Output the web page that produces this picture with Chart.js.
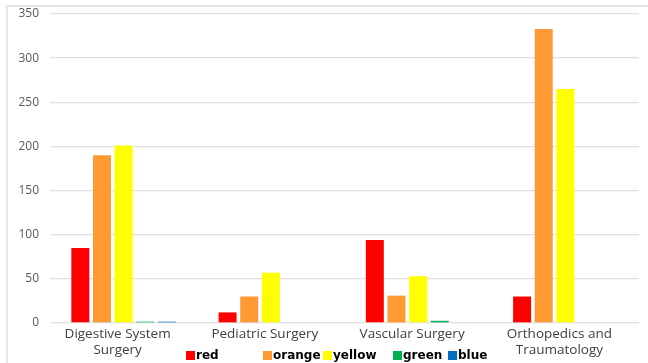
<!DOCTYPE html>
<html>
<head>
<meta charset="utf-8">
<script src="https://cdn.jsdelivr.net/npm/chart.js@4/dist/chart.umd.min.js"></script>
<style>
  html, body { margin: 0; padding: 0; background: #ffffff; }
  #wrap { position: relative; width: 648px; height: 363px; }
  canvas { display: block; }
</style>
</head>
<body>
<div id="wrap"><canvas id="chart" width="648" height="363"></canvas></div>
<script>
// Departments (two-line labels where the text wraps)
const categories = [
  ['Digestive System', 'Surgery'],
  'Pediatric Surgery',
  'Vascular Surgery',
  ['Orthopedics and', 'Traumatology']
];

// Series values per department
const redValues    = [85, 12, 94, 30];
const orangeValues = [190, 30, 31, 333];
const yellowValues = [201, 57, 53, 265];
const greenValues  = [1.5, 0, 2.5, 0];
const blueValues   = [1.5, 0, 0, 0];

const seriesNames  = ['red', 'orange', 'yellow', 'green', 'blue'];
const seriesColors = ['#ff0000', '#ff9933', '#ffff00', '#00b050', '#0070c0'];

// Y axis tick values
const yTicks = [0, 50, 100, 150, 200, 250, 300, 350];

const seriesValues = [redValues, orangeValues, yellowValues, greenValues, blueValues];

// Light frame around the chart
const framePlugin = {
  id: 'frame',
  beforeDraw(chart) {
    const ctx = chart.ctx;
    ctx.save();
    ctx.fillStyle = '#ffffff';
    ctx.fillRect(0, 0, chart.width, chart.height);
    ctx.strokeStyle = '#e6e6e6';
    ctx.lineWidth = 2;
    ctx.beginPath();
    ctx.moveTo(7, chart.height);
    ctx.lineTo(7, 6);
    ctx.lineTo(chart.width, 6);
    ctx.stroke();
    ctx.restore();
  }
};

// Legend row drawn along the bottom edge
const legendPlugin = {
  id: 'bottomLegend',
  afterDraw(chart) {
    const ctx = chart.ctx;
    const starts = [186, 263, 323, 393, 448];
    const y = 355.5;
    ctx.save();
    ctx.font = 'bold 12px "DejaVu Sans"';
    ctx.textBaseline = 'middle';
    ctx.textAlign = 'left';
    chart.data.datasets.forEach((ds, i) => {
      const x = starts[i];
      ctx.fillStyle = ds.backgroundColor;
      ctx.fillRect(x, y - 4.5, 9, 9);
      ctx.fillStyle = '#000000';
      ctx.fillText(ds.label, x + 10, y + 0.5);
    });
    ctx.restore();
  }
};

new Chart(document.getElementById('chart'), {
  type: 'bar',
  data: {
    labels: categories,
    datasets: seriesNames.map((name, i) => ({
      label: name,
      data: seriesValues[i],
      backgroundColor: seriesColors[i],
      borderWidth: 0,
      categoryPercentage: 0.735,
      barPercentage: 0.83
    }))
  },
  options: {
    responsive: false,
    animation: false,
    devicePixelRatio: 1,
    layout: { padding: { top: 14, right: 9, bottom: 0, left: 0 } },
    plugins: {
      legend: { display: false },
      tooltip: { enabled: false }
    },
    scales: {
      x: {
        grid: { display: false, drawTicks: false },
        border: { display: false },
        ticks: {
          color: '#404040',
          font: { family: '"Open Sans"', size: 13.5, lineHeight: 1.12 },
          padding: 4,
          labelOffset: -6,
          maxRotation: 0,
          autoSkip: false
        },
        afterFit(scale) {
          scale.height = 40;
          scale.paddingLeft = 0;
          scale.paddingRight = 0;
        }
      },
      y: {
        min: 0,
        max: 350,
        afterBuildTicks(scale) { scale.ticks = yTicks.map(v => ({ value: v })); },
        grid: { color: '#e0e0e0', lineWidth: 1.3, drawTicks: false },
        border: { display: false },
        ticks: {
          color: '#595959',
          font: { family: '"Open Sans"', size: 12 },
          padding: 11
        },
        afterFit(scale) {
          scale.width = 50;
          scale.paddingTop = 0;
          scale.paddingBottom = 0;
        }
      }
    }
  },
  plugins: [framePlugin, legendPlugin]
});
</script>
</body>
</html>
